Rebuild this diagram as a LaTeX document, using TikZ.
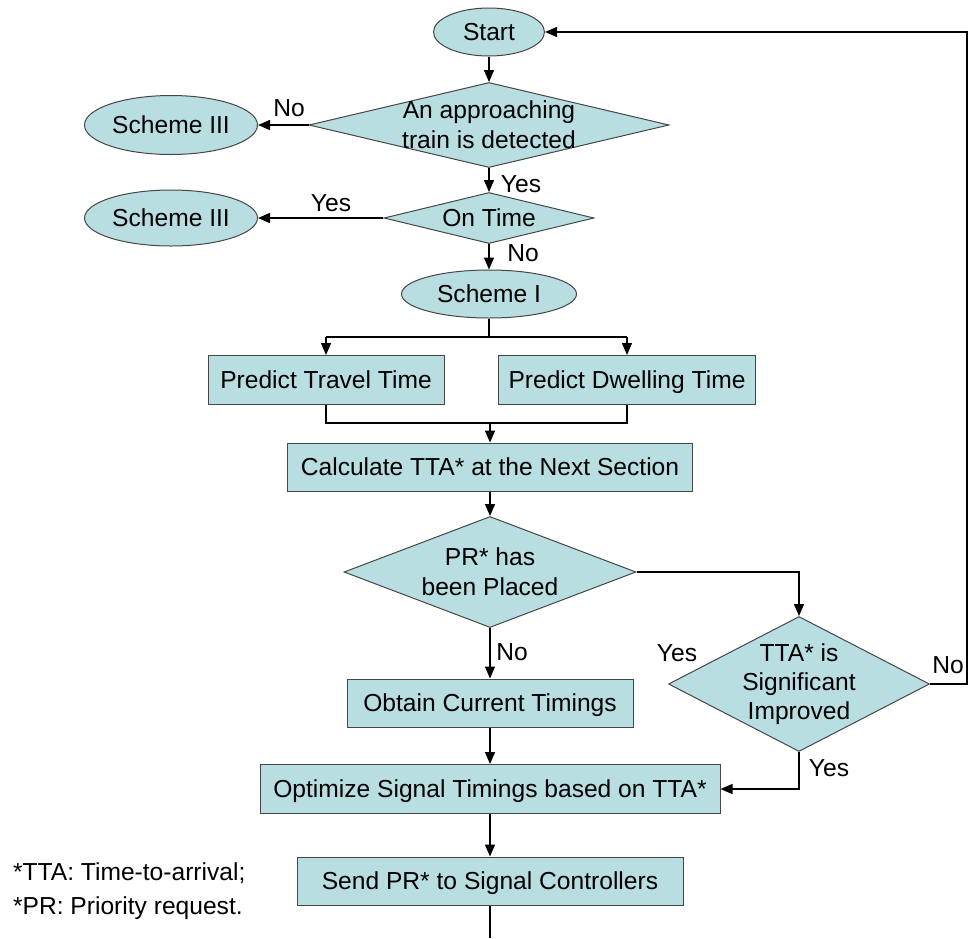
\documentclass[tikz,border=0pt]{standalone}
\usepackage{fontspec}
\setmainfont{Liberation Sans}
\usetikzlibrary{shapes.geometric,arrows.meta}
\definecolor{boxfill}{RGB}{184,222,226}
\definecolor{boxline}{RGB}{70,70,70}
\begin{document}
\begin{tikzpicture}[x=0.5pt, y=-0.5pt,
    font=\fontsize{12.3}{15}\selectfont,
    term/.style = {draw=boxline, fill=boxfill, ellipse, inner sep=0pt, line width=0.5pt, text height=8.8pt, text depth=0pt},
    proc/.style = {draw=boxline, fill=boxfill, rectangle, inner sep=0pt, line width=0.5pt, text height=8.8pt, text depth=0pt},
    dec/.style = {draw=boxline, fill=boxfill, diamond, inner sep=0pt, line width=0.5pt},
    flow/.style = {-{Triangle[length=6pt, width=5pt]}, line width=0.7pt},
    link/.style = {line width=0.7pt}]
    \useasboundingbox (0,0) rectangle (974,938);
        % main column
        \node[term, minimum width=55.5pt, minimum height=24pt] (start) at (489,32) {Start};
        \node[dec, minimum width=180pt, minimum height=42.5pt,
              label={[align=center]center:An approaching\\train is detected}] (detect) at (489,125) {};
        \node[term, minimum width=86.5pt, minimum height=29.5pt] (schA) at (171,125) {Scheme III};
        \node[dec, minimum width=105pt, minimum height=25.5pt,
              label={center:On Time}] (ontime) at (489,218) {};
        \node[term, minimum width=86.5pt, minimum height=28pt] (schB) at (171,218) {Scheme III};
        \node[term, minimum width=87.5pt, minimum height=24pt] (schI) at (489,294) {Scheme I};
        \node[proc, minimum width=118pt, minimum height=24.5pt] (travel) at (326,380) {Predict Travel Time};
        \node[proc, minimum width=128.5pt, minimum height=24.5pt] (dwell) at (627,380) {Predict Dwelling Time};
        \node[proc, minimum width=202.5pt, minimum height=24pt] (calc) at (490,467) {Calculate TTA* at the Next Section};
        \node[dec, minimum width=146pt, minimum height=55.5pt,
              label={[align=center]center:PR* has\\been Placed}] (placed) at (490,572) {};
        \node[dec, minimum width=130.5pt, minimum height=67.5pt,
              label={[align=center, font=\fontsize{12.3}{14.5}\selectfont]center:TTA* is\\Significant\\Improved}] (tta) at (799,684) {};
        \node[proc, minimum width=143pt, minimum height=24pt] (obtain) at (490,703) {Obtain Current Timings};
        \node[proc, minimum width=230pt, minimum height=24.5pt] (optim) at (490,789) {Optimize Signal Timings based on TTA*};
        \node[proc, minimum width=193pt, minimum height=24pt] (send) at (490,881) {Send PR* to Signal Controllers};
        \coordinate (bottom) at (490,938);
        \coordinate (split) at (489,337);
        \coordinate (join) at (490,423);
        \coordinate (rloop) at (967,0);

        % branch labels
        \node (noA) at (289,108) {No};
        \node (yesA) at (521,184) {Yes};
        \node (yesB) at (331,203) {Yes};
        \node (noB) at (523,253) {No};
        \node (noC) at (512,652) {No};
        \node (yesC) at (677,653) {Yes};
        \node (noD) at (948,665) {No};
        \node (yesD) at (829,768) {Yes};

        % footnotes
        \node[anchor=west] (fnA) at (6,873) {*TTA: Time-to-arrival;};
        \node[anchor=west] (fnB) at (6,908) {*PR: Priority request.};

        \draw [flow] (start) -- (detect);
        \draw [flow] (detect) -- (schA);
        \draw [flow] (detect) -- (ontime);
        \draw [flow] (ontime) -- (schB);
        \draw [flow] (ontime) -- (schI);
        \draw [link] (schI) -- (split);
        \draw [flow] (split -| travel) -- (travel);
        \draw [flow] (split -| dwell) -- (dwell);
        \draw [link] (split -| travel) -- (split -| dwell);
        \draw [link] (travel) -- (join -| travel) -- (join -| dwell) -- (dwell);
        \draw [flow] (join) -- (calc);
        \draw [flow] (calc) -- (placed);
        \draw [flow] (placed.east) -| (tta.north);
        \draw [flow] (placed) -- (obtain);
        \draw [flow] (obtain) -- (optim);
        \draw [flow] (tta.south) |- (optim.east);
        \draw [flow] (tta.east) -- (tta.east -| rloop) -- (start.east -| rloop) -- (start.east);
        \draw [flow] (optim) -- (send);
        \draw [link] (send) -- (bottom);
    \end{tikzpicture}
\end{document}
